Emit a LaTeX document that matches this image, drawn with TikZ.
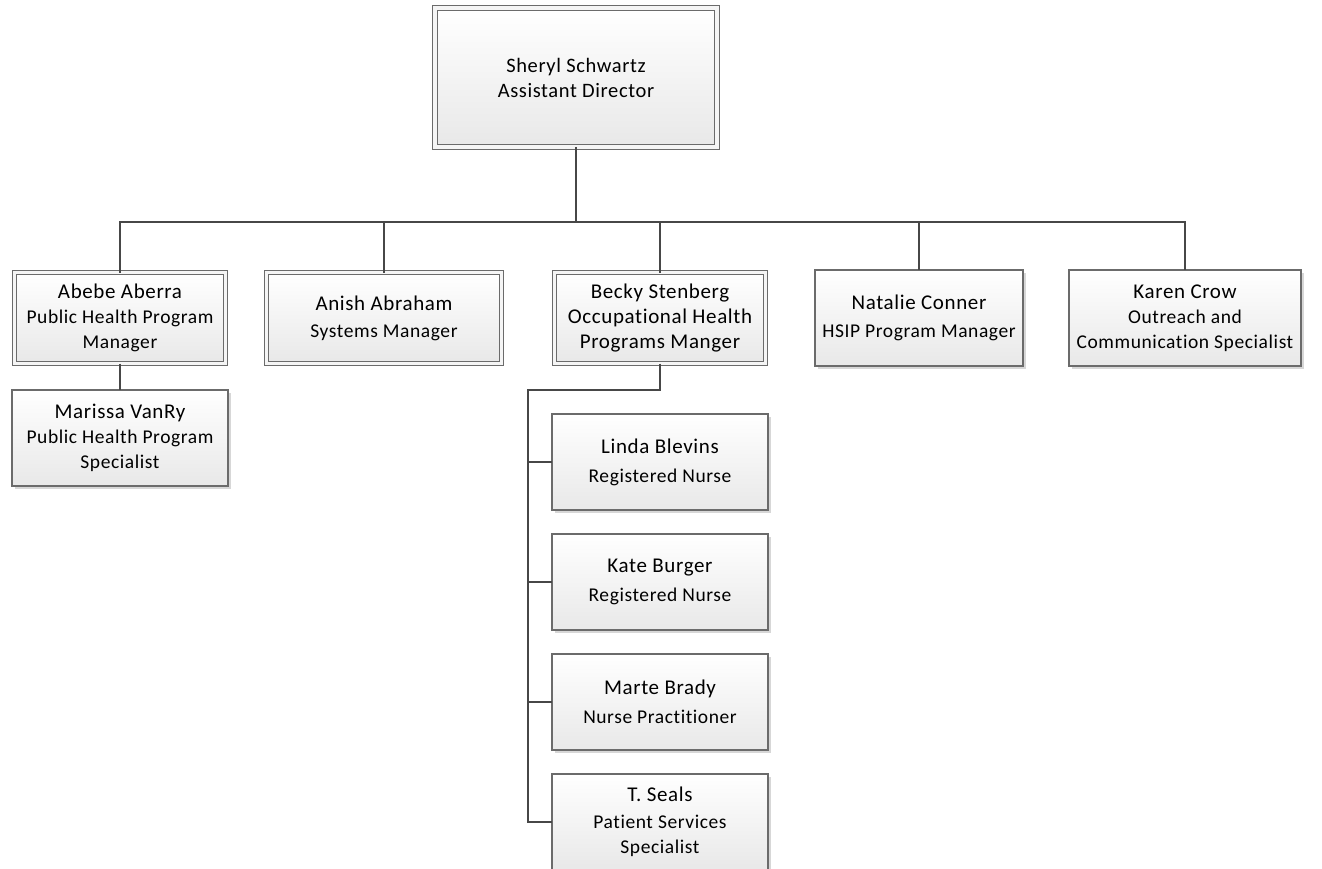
\documentclass[tikz,border=0pt]{standalone}
\usepackage{fontspec}
\setmainfont{Carlito}[LetterSpace=3, Ligatures=NoCommon]
\usetikzlibrary{calc}
\usetikzlibrary{shadows}
\colorlet{boxline}{black!58}
\colorlet{linkline}{black!72}
\tikzset{
  person/.style={draw=boxline, line width=1.2pt, top color=white, bottom color=black!9,
    minimum height=96pt, inner sep=1pt, outer sep=0pt, align=center,
    font=\fontsize{19.5}{25}\selectfont,
    drop shadow={shadow xshift=2.5pt, shadow yshift=-2.5pt, fill=black!35, opacity=.45}},
  headbox/.style={person, double=white!96!black, double distance=3.2pt, line width=1pt},
  link/.style={draw=linkline, line width=2.6pt}
}
\newcommand\who[1]{{\fontsize{21}{25}\selectfont #1}}

\begin{document}
\begin{tikzpicture}[x=1pt, y=-1pt]
    \useasboundingbox (0,0) rectangle (1322,869);

    \pgfmathsetmacro\rowA{318} % centre line of the second row
    \pgfmathsetmacro\busY{222}
    \pgfmathsetmacro\spineX{528}

    \coordinate (bus) at (576,\busY);
    \coordinate (spine) at (\spineX,390);

    \node[headbox, minimum width=282pt, minimum height=139pt, font=\fontsize{20.5}{25}\selectfont] (dir) at (576,77.5)
      {Sheryl Schwartz\\Assistant Director};

    \node[headbox, minimum width=211pt, minimum height=91pt] (abebe) at (120,\rowA)
      {\who{Abebe Aberra}\\Public Health Program\\Manager};
    \node[headbox, minimum width=235pt, minimum height=91pt] (anish) at (384,\rowA)
      {\who{Anish Abraham}\\[2pt]Systems Manager};
    \node[headbox, minimum width=211pt, minimum height=91pt] (becky) at (660,\rowA)
      {\who{Becky Stenberg}\\\who{Occupational Health}\\\who{Programs Manger}};
    \node[person, minimum width=208pt] (natalie) at (919,\rowA)
      {\who{Natalie Conner}\\[3pt]HSIP Program Manager};
    \node[person, minimum width=232pt] (karen) at (1185,\rowA)
      {\who{Karen Crow}\\Outreach and\\Communication Specialist};

    \node[person, minimum width=216pt] (marissa) at (120,438)
      {\who{Marissa VanRy}\\Public Health Program\\Specialist};

    \node[person, minimum width=216pt] (linda) at (660,462) {\who{Linda Blevins}\\[4pt]Registered Nurse};
    \node[person, minimum width=216pt] (kate) at (660,582) {\who{Kate Burger}\\[4pt]Registered Nurse};
    \node[person, minimum width=216pt] (marte) at (660,702) {\who{Marte Brady}\\[4pt]Nurse Practitioner};
    \node[person, minimum width=216pt] (seals) at (660,822) {\who{T. Seals}\\[2pt]Patient Services\\Specialist};

    \draw[link] (dir.south) -- (bus);
    \draw[link] (bus) -| (abebe.north);
    \draw[link] (bus) -| (anish.north);
    \draw[link] (bus) -| (becky.north);
    \draw[link] (bus) -| (natalie.north);
    \draw[link] (bus) -| (karen.north);
    \draw[link] (abebe.south) -- (marissa.north);
    \draw[link] (becky.south) |- (spine) |- (seals.west);
    \draw[link] (spine) |- (linda.west);
    \draw[link] (spine) |- (kate.west);
    \draw[link] (spine) |- (marte.west);
\end{tikzpicture}
\end{document}
